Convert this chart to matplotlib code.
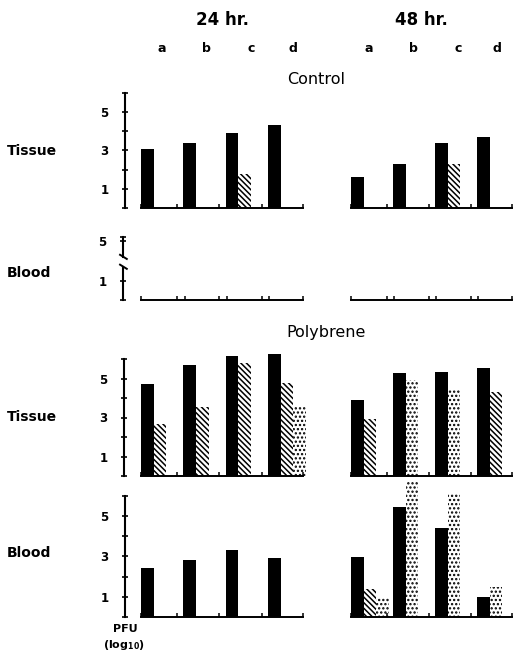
import numpy as np
import matplotlib
matplotlib.use('Agg')
import matplotlib.pyplot as plt

W, H = 514, 654
nan = np.nan

groups = ['a', 'b', 'c', 'd']
times = ['24 hr.', '48 hr.']

# PFU (log10): solid bar, hatched bar, dotted bar per group
ctrl_tis_24_solid = [3.1, 3.4, 3.9, 4.35]
ctrl_tis_24_hatch = [nan, nan, 1.75, nan]
ctrl_tis_24_dot = [nan, nan, nan, nan]

ctrl_tis_48_solid = [1.6, 2.3, 3.4, 3.7]
ctrl_tis_48_hatch = [nan, nan, 2.3, nan]
ctrl_tis_48_dot = [nan, nan, nan, nan]

poly_tis_24_solid = [4.7, 5.7, 6.15, 6.25]
poly_tis_24_hatch = [2.65, 3.55, 5.8, 4.75]
poly_tis_24_dot = [nan, nan, nan, 3.55]

poly_tis_48_solid = [3.9, 5.3, 5.35, 5.55]
poly_tis_48_hatch = [2.9, nan, nan, 4.3]
poly_tis_48_dot = [nan, 4.9, 4.4, nan]

poly_bld_24_solid = [2.45, 2.8, 3.3, 2.9]
poly_bld_24_hatch = [nan, nan, nan, nan]
poly_bld_24_dot = [nan, nan, nan, nan]

poly_bld_48_solid = [2.95, 5.45, 4.4, 1.0]
poly_bld_48_hatch = [1.4, nan, nan, nan]
poly_bld_48_dot = [0.95, 6.7, 6.1, 1.5]

plt.rcParams['font.family'] = 'DejaVu Sans'
plt.rcParams['hatch.color'] = 'black'
plt.rcParams['hatch.linewidth'] = 1.1

fig = plt.figure(figsize=(W / 100, H / 100), dpi=100)

STYLES = {
    'solid': dict(color='black', linewidth=0),
    'hatch': dict(facecolor='white', edgecolor='black', hatch='\\' * 6, linewidth=0),
    'dot': dict(facecolor='white', edgecolor='black', hatch='....', linewidth=0),
}

BW = 0.3


def make_axes(px_left, px_right, c0, s, y0, ys, ytop):
    ax = fig.add_axes([px_left / W, 1 - y0 / H, (px_right - px_left) / W, ytop * ys / H])
    ax.set_xlim((px_left - c0) / s, (px_right - c0) / s)
    ax.set_ylim(0, ytop)
    ax.patch.set_visible(False)
    for side in ('top', 'right'):
        ax.spines[side].set_visible(False)
    ax.spines['bottom'].set_linewidth(1.4)
    ax.spines['bottom'].set_bounds(-0.45, 3.38)
    bt = [-0.45]
    for i in range(3):
        bt += [i + 0.4, i + 0.58]
    bt.append(3.38)
    ax.set_xticks(bt)
    ax.set_xticklabels([])
    ax.tick_params(axis='x', direction='in', length=3, width=1.1)
    return ax


def bold_ylabels(ax):
    ax.tick_params(axis='y', direction='inout', length=5, width=1.2, pad=9.5,
                   labelsize=8.5)
    for t in ax.get_yticklabels():
        t.set_fontweight('bold')


def left_axis(ax):
    ax.spines['left'].set_linewidth(1.5)
    ax.set_yticks(range(7))
    ax.set_yticklabels(['', '1', '', '3', '', '5', ''])
    bold_ylabels(ax)


def no_axis(ax):
    ax.spines['left'].set_visible(False)
    ax.set_yticks([])


def draw_bars(ax, solid, hatch, dot):
    for i in range(len(groups)):
        k = 0
        for vals, style in ((solid, 'solid'), (hatch, 'hatch'), (dot, 'dot')):
            v = vals[i]
            if np.isnan(v):
                continue
            ax.bar(i - BW + BW * k, v, width=BW, clip_on=False, **STYLES[style])
            k += 1


LC, LS = 160, 42.3   # left column: centre of group a, px per group
RC, RS = 370, 42.0   # right column

# Control, tissue
ax = make_axes(125, 320, LC, LS, 208, 19.17, 6)
left_axis(ax)
draw_bars(ax, ctrl_tis_24_solid, ctrl_tis_24_hatch, ctrl_tis_24_dot)
ax = make_axes(340, 514, RC, RS, 208, 19.17, 6)
no_axis(ax)
draw_bars(ax, ctrl_tis_48_solid, ctrl_tis_48_hatch, ctrl_tis_48_dot)

# Control, blood (broken axis, nothing recovered)
ax = make_axes(123, 320, LC, LS, 300, 19.0, 3.3)
ax.spines['left'].set_visible(False)
x0 = ax.get_xlim()[0]
ax.plot([x0, x0], [0, 1.74], color='black', lw=1.5, clip_on=False)
ax.plot([x0, x0], [2.26, 3.3], color='black', lw=1.5, clip_on=False)
for yb in (1.74, 2.26):
    ax.plot([x0 - 0.07, x0 + 0.09], [yb + 0.12, yb - 0.1], color='black', lw=1.4,
            clip_on=False)
ax.set_yticks([0, 1, 3.1, 3.3])
ax.set_yticklabels(['', '1', '5', ''])
bold_ylabels(ax)
ax = make_axes(340, 514, RC, RS, 300, 19.0, 3.3)
no_axis(ax)

# Polybrene, tissue
ax = make_axes(124, 320, LC, LS, 476, 19.5, 6)
left_axis(ax)
draw_bars(ax, poly_tis_24_solid, poly_tis_24_hatch, poly_tis_24_dot)
ax = make_axes(340, 514, RC, RS, 476, 19.5, 6)
no_axis(ax)
draw_bars(ax, poly_tis_48_solid, poly_tis_48_hatch, poly_tis_48_dot)

# Polybrene, blood
ax = make_axes(125, 320, LC, LS, 617, 20.2, 6)
left_axis(ax)
draw_bars(ax, poly_bld_24_solid, poly_bld_24_hatch, poly_bld_24_dot)
ax = make_axes(340, 514, RC, RS, 617, 20.2, 6)
no_axis(ax)
draw_bars(ax, poly_bld_48_solid, poly_bld_48_hatch, poly_bld_48_dot)


def ftext(x, y, s, **kw):
    fig.text(x / W, 1 - y / H, s, ha=kw.pop('ha', 'center'), va=kw.pop('va', 'center'), **kw)


ftext(222, 20, times[0], fontsize=12, fontweight='bold')
ftext(421, 20, times[1], fontsize=12, fontweight='bold')
for x, g in zip([162, 206, 251, 293], groups):
    ftext(x, 48, g, fontsize=9, fontweight='bold')
for x, g in zip([369, 413, 458, 497], groups):
    ftext(x, 48, g, fontsize=9, fontweight='bold')

ftext(316, 79, 'Control', fontsize=11.5)
ftext(326, 333, 'Polybrene', fontsize=11.5)

ftext(7, 151, 'Tissue', ha='left', fontsize=10, fontweight='bold')
ftext(7, 273, 'Blood', ha='left', fontsize=10, fontweight='bold')
ftext(7, 417, 'Tissue', ha='left', fontsize=10, fontweight='bold')
ftext(7, 553, 'Blood', ha='left', fontsize=10, fontweight='bold')

ftext(125, 629, 'PFU', fontsize=8, fontweight='bold')
ftext(124, 645, r'(log$_{\mathbf{10}}$)', fontsize=8, fontweight='bold')

fig.savefig('out.png', dpi=100)
